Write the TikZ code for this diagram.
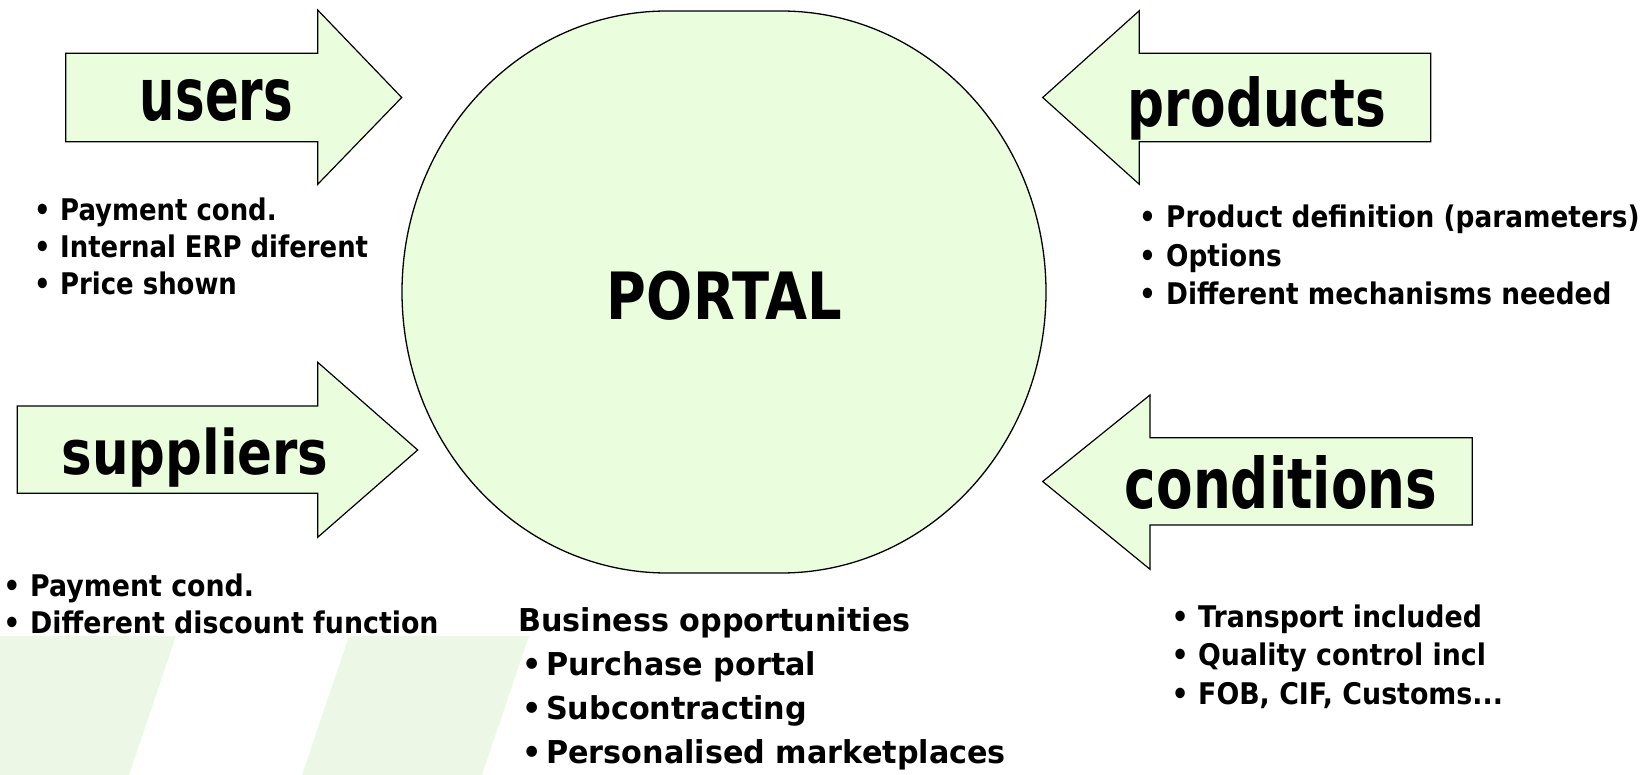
\documentclass[tikz,border=0pt]{standalone}
\usepackage{fontspec}
\setmainfont{DejaVu Sans}
\newfontfamily\listfont{DejaVu Sans}[FakeStretch=0.87]
\newfontfamily\listfontb{DejaVu Sans}[FakeStretch=0.90]
\newfontfamily\listfontc{DejaVu Sans}[FakeStretch=0.885]
\newfontfamily\bizfont{DejaVu Sans}[FakeStretch=0.96]
\definecolor{pgreen}{RGB}{234,254,222}
\definecolor{bgband}{RGB}{236,247,229}
\newcommand{\bul}[1]{\llap{\textbullet\kern#1pt}}
\begin{document}
\begin{tikzpicture}[x=1pt,y=-1pt,
  blockarrow/.style={draw=black,line width=1.2pt,fill=pgreen,line join=miter},
  lbl/.style={anchor=base,inner sep=0pt,font=\bfseries},
  item/.style={anchor=base west,inner sep=0pt,font=\listfont\bfseries\fontsize{29.8pt}{36pt}\selectfont},
  itemb/.style={item,font=\listfontb\bfseries\fontsize{29.8pt}{36pt}\selectfont},
  itemc/.style={item,font=\listfontc\bfseries\fontsize{29.8pt}{36pt}\selectfont},
  bizitem/.style={anchor=base west,inner sep=0pt,font=\bizfont\bfseries\fontsize{31.5pt}{38pt}\selectfont}]
\useasboundingbox (0,0) rectangle (1650,775);
% background bands
\fill[bgband] (0,636) -- (176,636) -- (129,775) -- (0,775) -- cycle;
\fill[bgband] (349,636) -- (529,636) -- (482,775) -- (302,775) -- cycle;
% central portal shape
\draw[line width=1.3pt,fill=pgreen] (667,11) -- (781,11)
  arc[start angle=270,end angle=360,x radius=265,y radius=281]
  arc[start angle=0,end angle=90,x radius=265,y radius=281]
  -- (667,573)
  arc[start angle=90,end angle=180,x radius=265,y radius=281]
  arc[start angle=180,end angle=270,x radius=265,y radius=281] -- cycle;
\node[lbl] (portal) at (724.5,320) {\resizebox{235pt}{48.4pt}{PORTAL}};
% block arrows
\draw[blockarrow] (65.7,53.3) -- (317.7,53.3) -- (317.7,10) -- (401.7,97.5) -- (317.7,184.3) -- (317.7,141.7) -- (65.7,141.7) -- cycle;
\draw[blockarrow] (17.3,406) -- (317.7,406) -- (317.7,362.3) -- (417.7,450) -- (317.7,537.3) -- (317.7,493.3) -- (17.3,493.3) -- cycle;
\draw[blockarrow] (1430.7,53.3) -- (1139.3,53.3) -- (1139.3,10.7) -- (1042.7,97.5) -- (1139.3,184.3) -- (1139.3,141.7) -- (1430.7,141.7) -- cycle;
\draw[blockarrow] (1472.3,437.7) -- (1150,437.7) -- (1150,395) -- (1042.7,481.5) -- (1150,569.3) -- (1150,525) -- (1472.3,525) -- cycle;
\node[lbl] (tusers) at (216.5,121) {\resizebox{153pt}{41pt}{users}};
\node[lbl] (tsuppliers) at (195,475) {\resizebox{267pt}{46.7pt}{suppliers}};
\node[lbl] (tproducts) at (1257,127) {\resizebox{258pt}{50pt}{products}};
\node[lbl] (tconditions) at (1281,508) {\resizebox{312pt}{53pt}{conditions}};
% lists
\node[item] (u1) at (60,221) {\bul{9.5}Payment cond.};
\node[item] (u2) at (60,258) {\bul{9.5}Internal ERP diferent};
\node[item] (u3) at (60,295) {\bul{9.5}Price shown};
\node[itemb] (s1) at (30,596.7) {\bul{9.8}Payment cond.};
\node[itemb] (s2) at (30,633.3) {\bul{9.8}Different discount function};
\node[itemc] (p1) at (1166,228) {\bul{10.3}Product definition (parameters)};
\node[itemc] (p2) at (1166,266.5) {\bul{10.3}Options};
\node[itemc] (p3) at (1166,305) {\bul{10.3}Different mechanisms needed};
\node[itemb] (c1) at (1198,627) {\bul{9.4}Transport included};
\node[itemb] (c2) at (1198,665.5) {\bul{9.4}Quality control incl};
\node[itemb] (c3) at (1198,704) {\bul{9.4}FOB, CIF, Customs...};
\node[bizitem] (b0) at (518,631) {Business opportunities};
\node[bizitem] (b1) at (546,675) {\bul{4.5}Purchase portal};
\node[bizitem] (b2) at (546,719) {\bul{4.5}Subcontracting};
\node[bizitem] (b3) at (546,763) {\bul{4.5}Personalised marketplaces};
\end{tikzpicture}
\end{document}
